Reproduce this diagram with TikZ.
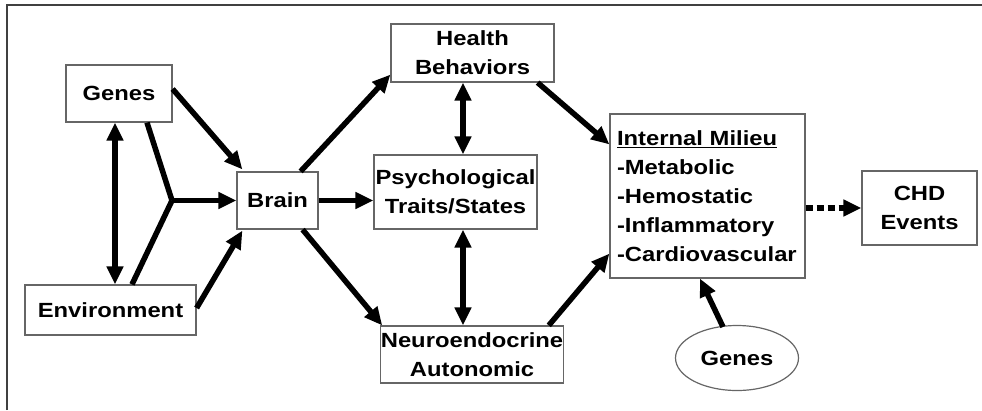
\documentclass[tikz,border=0pt]{standalone}
\usepackage{fontspec}
\setmainfont{Liberation Sans}[FakeStretch=1.16]
\usetikzlibrary{arrows.meta,calc,shapes.geometric}
\begin{document}
\begin{tikzpicture}[x=1pt,y=-1pt,
  bigtip/.tip={Triangle[length=18pt,width=16pt]},
  box/.style={draw=black!60,line width=1.2pt,inner sep=0pt,align=center,
    font=\bfseries\fontsize{20.5}{29}\selectfont},
  ln/.style={line width=5.5pt},
  arr/.style={ln,-bigtip},
  darr/.style={ln,bigtip-bigtip},
  dotarr/.style={ln,-bigtip,dash pattern=on 7pt off 4pt}]
\useasboundingbox (0,0) rectangle (982,410);
\draw[black!75,line width=1.5pt] (7,410) -- (7,5) -- (982,5);

\node[box,minimum width=106pt,minimum height=57pt] (genes) at (119,93.5) {Genes};
\node[box,minimum width=171pt,minimum height=50pt] (env) at (110.5,310) {Environment};
\node[box,minimum width=81pt,minimum height=57pt] (brain) at (277.5,200.5) {Brain};
\node[box,minimum width=163pt,minimum height=58pt] (health) at (472.5,53) {Health\\Behaviors};
\node[box,minimum width=163pt,minimum height=74pt] (psych) at (455.5,192) {Psychological\\Traits/States};
\node[box,minimum width=180pt,minimum height=57pt] (neuro) at (472,354.5) {Neuroendocrine\\Autonomic};
\node[box,align=left,text width=181pt,inner xsep=7pt,minimum height=164pt] (im) at (707.5,196)
  {\underline{Internal Milieu}\\-Metabolic\\-Hemostatic\\-Inflammatory\\-Cardiovascular};
\node[box,minimum width=115pt,minimum height=74pt] (chd) at (919.5,208) {CHD\\Events};
\node[box,ellipse,minimum width=123pt,minimum height=65pt] (g2) at (737,358) {Genes};

\coordinate (j) at (172,200.5);

\draw[arr] ($(genes.east)+(0,-4.5)$) -- ($(brain.north west)+(6,-2)$);
\draw[darr] ($(genes.south)+(-4,0)$) -- ($(env.north)+(4.5,0)$);
\draw[ln] ($(genes.south)+(28,0)$) -- (j);
\draw[ln] ($(env.north)+(21.5,0)$) -- (j);
\draw[arr] (j) -- (brain.west);
\draw[arr] ($(env.east)+(0,-2)$) -- ($(brain.south west)+(6,1)$);

\draw[arr] ($(brain.north east)+(-18,0)$) -- ($(health.south west)+(0,-8)$);
\draw[arr] (brain.east) -- (brain.east -| psych.west);
\draw[arr] ($(brain.south east)+(-16,0)$) -- ($(neuro.north west)+(2,0)$);

\draw[darr] ($(health.south)+(-9.5,0)$) -- ($(psych.north)+(7.5,0)$);
\draw[darr] ($(psych.south)+(7.5,0)$) -- ($(neuro.north)+(-9,0)$);

\draw[arr] ($(health.south east)+(-17,0)$) -- ($(im.north west)+(0,31)$);
\draw[arr] ($(neuro.north east)+(-15,0)$) -- ($(im.south west)+(0,-25)$);
\draw[arr] ($(g2.north)+(-14,2)$) -- ($(im.south)+(-7.5,0)$);

\draw[dotarr] (im.east |- chd.west) -- (chd.west);
\end{tikzpicture}
\end{document}
